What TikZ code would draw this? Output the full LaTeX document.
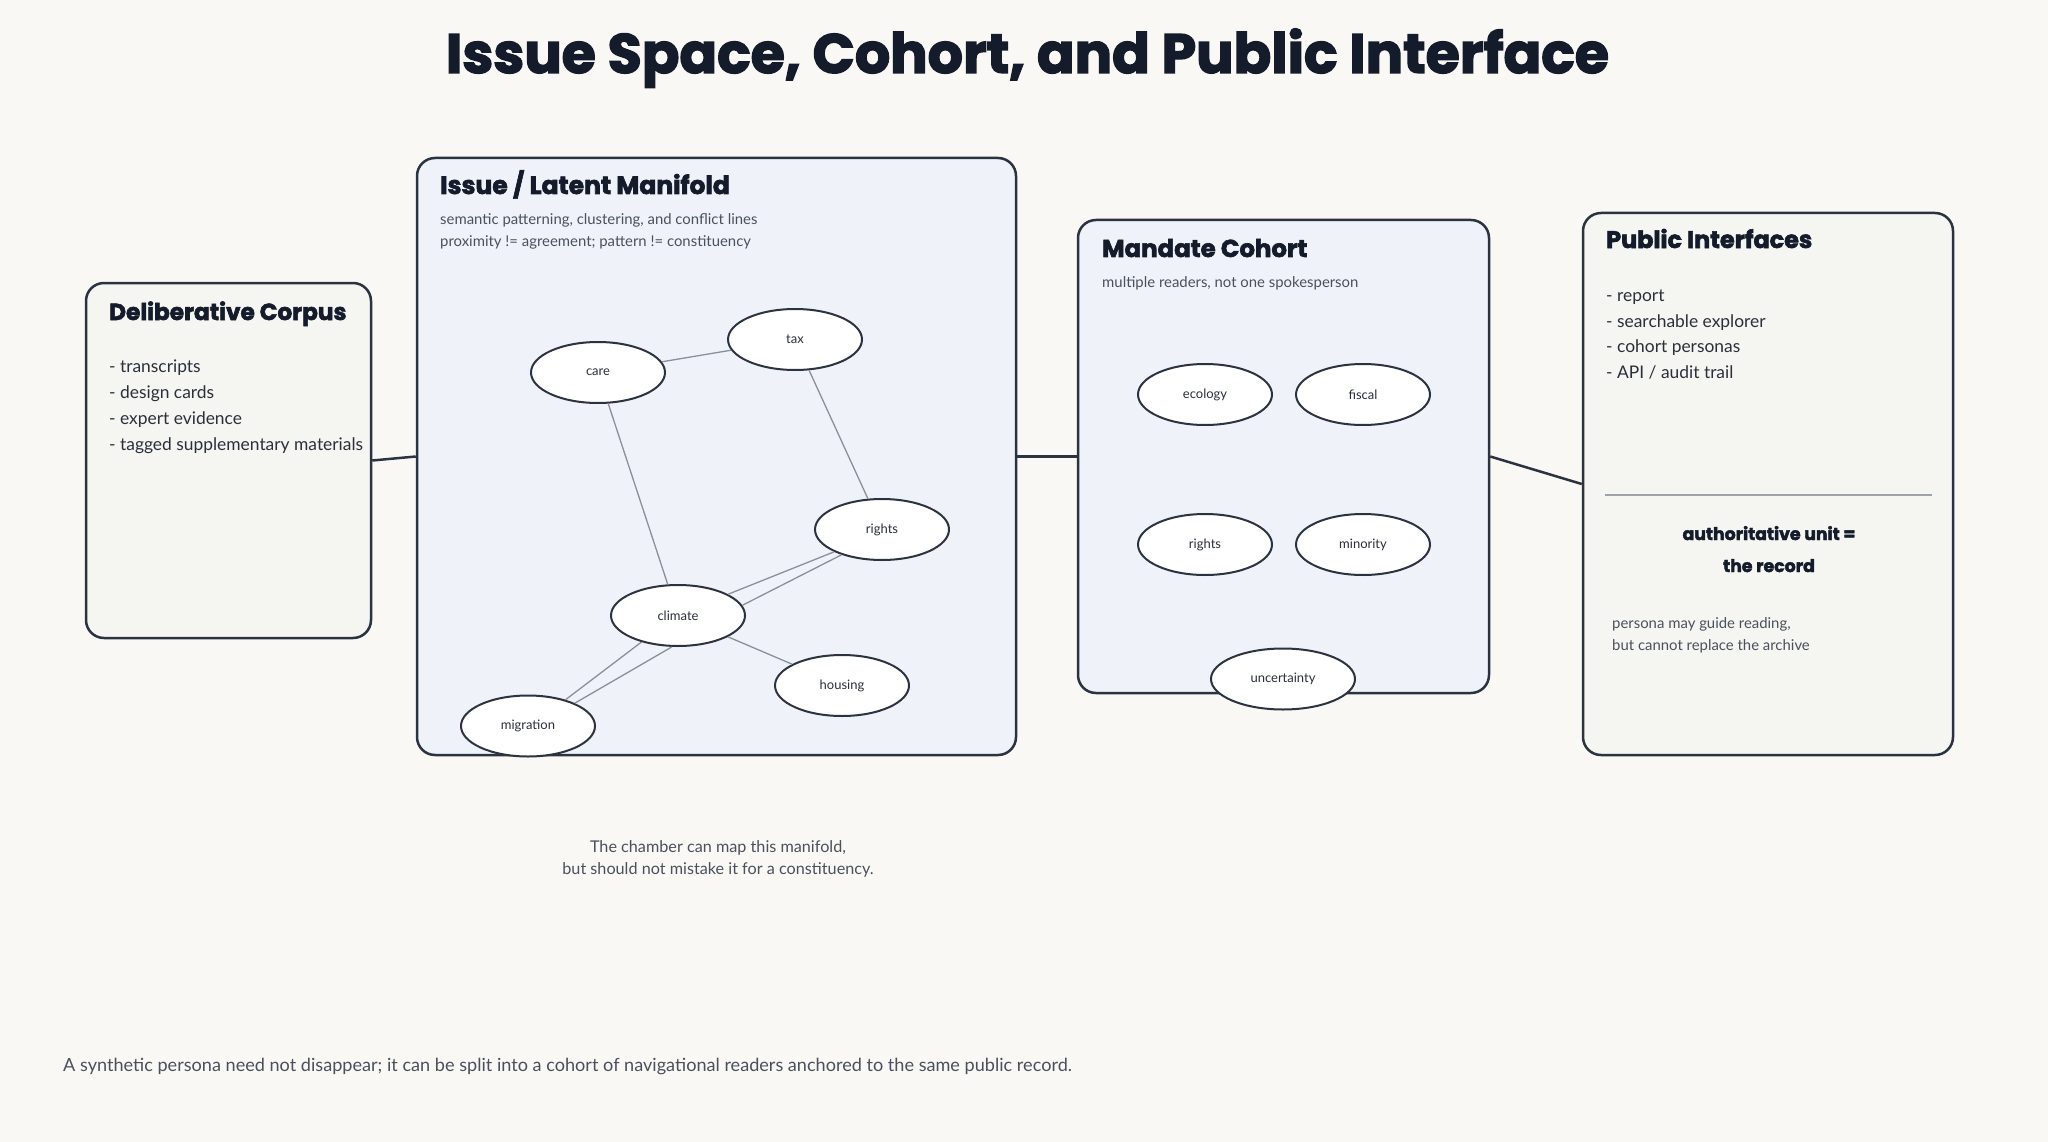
\documentclass[tikz,border=0pt]{standalone}
\usepackage{fontspec}
\setmainfont{Lato}
\newfontfamily\headfont{Poppins}[BoldFeatures={FakeBold=2.5}]
\usetikzlibrary{shapes.geometric}
\definecolor{bgc}{HTML}{F9F8F5}
\definecolor{panelgray}{HTML}{F5F5F2}
\definecolor{panelblue}{HTML}{EFF3F9}
\definecolor{strokec}{HTML}{2B3340}
\definecolor{edgec}{HTML}{8A9099}
\definecolor{inkc}{HTML}{141B2B}
\definecolor{bodyc}{HTML}{2A2F3A}
\definecolor{mutedc}{HTML}{4A505C}
\definecolor{sepc}{HTML}{9EA2A9}
\tikzset{
  panel/.style={draw=strokec, line width=2.5pt, rounded corners=18pt, inner sep=0pt},
  link/.style={draw=strokec, line width=2.5pt},
  bubble/.style={ellipse, draw=strokec, fill=white, line width=2pt, inner sep=0pt,
     minimum width=134pt, minimum height=61pt, font=\fontsize{13}{15}\selectfont, text=bodyc},
  edge/.style={draw=edgec, line width=1.3pt},
  ptitle/.style={anchor=base west, inner sep=0pt, text=inkc, font=\headfont\bfseries\fontsize{#1}{26}\selectfont},
  item/.style={anchor=base west, inner sep=0pt, text=bodyc, font=\fontsize{17.4}{20}\selectfont},
  small/.style={anchor=base west, inner sep=0pt, text=mutedc, font=\fontsize{14.9}{17}\selectfont},
}
\begin{document}
\begin{tikzpicture}[x=1pt,y=-1pt]
\fill[bgc] (0,0) rectangle (2048,1142);
\useasboundingbox (0,0) rectangle (2048,1142);

% title
\node[anchor=base, inner sep=0pt, text=inkc, font=\headfont\bfseries\fontsize{55.5}{60}\selectfont] (title) at (1027.5,73) {Issue Space, Cohort, and Public Interface};

% panels
\node[panel, fill=panelgray, minimum width=285pt, minimum height=355pt] (corpus) at (228.5,460.5) {};
\node[panel, fill=panelblue, minimum width=599pt, minimum height=597pt] (manifold) at (716.5,456.5) {};
\node[panel, fill=panelblue, minimum width=411pt, minimum height=473pt] (mandate) at (1283.5,456.5) {};
\node[panel, fill=panelgray, minimum width=370pt, minimum height=542pt] (public) at (1768,484) {};

% connectors between panels
\draw[link] (corpus.east) -- (manifold.west);
\draw[link] (manifold.east) -- (mandate.west);
\draw[link] (mandate.east) -- (public.west);

% corpus text
\node[ptitle=23.2] (corpusT) at (109,320) {Deliberative Corpus};
\node[item] (c1) at (109,372.5) {- transcripts};
\node[item] (c2) at (109,398.5) {- design cards};
\node[item] (c3) at (109,424) {- expert evidence};
\node[item] (c4) at (109,450) {- tagged supplementary materials};

% manifold text
\node[ptitle=25] (manT) at (440,194) {Issue / Latent Manifold};
\node[small] (manS1) at (440,224.5) {semantic patterning, clustering, and conflict lines};
\node[small] (manS2) at (440,246.5) {proximity != agreement; pattern != constituency};

% manifold graph
\node[bubble] (care) at (598,372.5) {care};
\node[bubble] (tax) at (795,339.5) {tax};
\node[bubble] (rightsA) at (882,529.5) {rights};
\node[bubble] (climate) at (678,615.5) {climate};
\node[bubble] (housing) at (842,685.5) {housing};
\node[bubble] (migration) at (528,726) {migration};
\draw[edge] (care) -- (tax);
\draw[edge] (tax) -- (rightsA);
\draw[edge] (care) -- (climate);
\draw[edge] (climate.23) -- (rightsA.205);
\draw[edge] (climate.9) -- (rightsA.212);
\draw[edge] (climate) -- (housing);
\draw[edge] (climate.216) -- (migration.35);
\draw[edge] (climate.259) -- (migration.26);

% mandate text
\node[ptitle=24.4] (mandT) at (1102,257) {Mandate Cohort};
\node[small] (mandS) at (1102,287.5) {multiple readers, not one spokesperson};
\node[bubble] (ecology) at (1205,394.5) {ecology};
\node[bubble] (fiscal) at (1363,394.5) {fiscal};
\node[bubble] (rightsB) at (1205,544.5) {rights};
\node[bubble] (minority) at (1363,544.5) {minority};
\node[bubble, minimum width=144pt] (uncertainty) at (1283,679) {uncertainty};

% public text
\node[ptitle=23.9] (pubT) at (1606,248) {Public Interfaces};
\node[item] (p1) at (1606,301.5) {- report};
\node[item] (p2) at (1606,327.5) {- searchable explorer};
\node[item] (p3) at (1606,352.5) {- cohort personas};
\node[item] (p4) at (1606,378.5) {- API / audit trail};
\coordinate (sepL) at (1605,495);
\coordinate (sepR) at (1932,495);
\draw[draw=sepc, line width=1.3pt] (sepL) -- (sepR);
\node[anchor=base, inner sep=0pt, text=inkc, font=\headfont\bfseries\fontsize{17.3}{20}\selectfont] (auth1) at (1769,540) {authoritative unit =};
\node[anchor=base, inner sep=0pt, text=inkc, font=\headfont\bfseries\fontsize{17.3}{20}\selectfont] (auth2) at (1769,572) {the record};
\node[small] (pers1) at (1612,628) {persona may guide reading,};
\node[small] (pers2) at (1612,650) {but cannot replace the archive};

% caption
\node[anchor=base, inner sep=0pt, text=mutedc, font=\fontsize{16.2}{19}\selectfont] (cap1) at (718,852) {The chamber can map this manifold,};
\node[anchor=base, inner sep=0pt, text=mutedc, font=\fontsize{16.2}{19}\selectfont] (cap2) at (718,874) {but should not mistake it for a constituency.};

% footer
\node[anchor=base west, inner sep=0pt, text=mutedc, font=\fontsize{18.1}{21}\selectfont] (foot) at (63,1071.5) {A synthetic persona need not disappear; it can be split into a cohort of navigational readers anchored to the same public record.};
\end{tikzpicture}
\end{document}
